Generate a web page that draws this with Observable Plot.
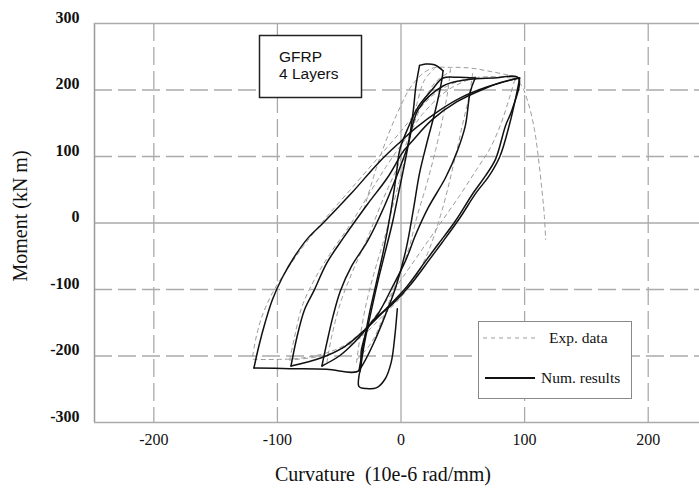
<!DOCTYPE html>
<html>
<head>
<meta charset="utf-8">
<script src="https://cdn.jsdelivr.net/npm/d3@7"></script>
<script src="https://cdn.jsdelivr.net/npm/@observablehq/plot@0.6"></script>
<style>
  html, body { margin: 0; padding: 0; background: #fff; }
  #chart { width: 699px; height: 489px; }
</style>
</head>
<body>
<div id="chart"></div>
<script>
// ---- axes ----
const xDomain = [-248, 241.5];
const yDomain = [-300, 300];
const xTicks = [-200, -100, 0, 100, 200];
const yTicks = [-300, -200, -100, 0, 100, 200, 300];
const xDashedGrid = [-200, -100, 100, 200];
const yDashedGrid = [-200, -100, 100, 200];
const xSolidGrid = [0];
const ySolidGrid = [0];

// ---- numerical results (curvature, moment) ----
const numTail = [[-3,-129],[-5,-170],[-8,-210],[-13,-235],[-20,-248],[-28,-249],[-34,-246],[-34,-230],[-33,-222]];
const numR4 = [[-33,-222],[-30,-185],[-25,-140],[-19,-90],[-13,-45],[-7,0],[-2,45],[3,90],[7,130],[10,170],[12,205],[15,237]];
const numCap = [[15,237],[20,239],[27,238],[34,229]];
const numUcap = [[34,229],[33,215],[28,171],[21,121],[15,75],[10,20],[4,-40],[-4,-95],[-13,-140],[-22,-180],[-30,-210],[-34,-222]];
const numR4b = [[-34,-222],[-31,-190],[-26,-140],[-20,-90],[-14,-40],[-8,20],[-4,70],[-1,110],[5,140],[14,175],[25,200],[34,218],[47,219],[60,218]];
const numU60 = [[60,218],[56,197],[52,146],[45.5,108],[36,68],[22,23],[12,-17],[3.6,-57],[-8,-100],[-18,-135],[-26,-155],[-38,-180],[-50,-200],[-64,-215]];
const numR3 = [[-64,-215],[-60,-180],[-55,-140],[-49,-102],[-40,-65],[-27,-27],[-14,23],[-3,73],[5,113],[14,171],[34,206],[48,214],[60,217]];
const numU95a = [[60,217],[75,218],[95,218],[90,171],[84.5,146],[76.5,96],[68,70],[58,44],[44,3],[30,-32],[20,-57],[5,-95],[-10,-125],[-26,-155],[-45,-185],[-65,-203],[-89,-215]];
const numR2 = [[-89,-215],[-84,-170],[-78,-130],[-70.5,-102],[-60,-60],[-46.5,-22],[-27,28.6],[-11,68],[2,108],[9,123],[25,155],[45,182],[65,200],[80,211],[96,218]];
const numU95b = [[96,218],[93,190],[88,150],[80,100],[71,70],[61,46],[47,6],[33,-30],[23,-55],[8,-92],[-7,-122],[-25,-152],[-32,-190],[-34,-222],[-60,-220],[-90,-219],[-119,-218]];
const numR1 = [[-119,-218],[-115,-185],[-110,-150],[-104,-115],[-96,-82],[-86,-50],[-75,-22],[-63,0],[-40,45],[-17,93],[0,123],[12,143],[30,168],[50,190],[70,205],[85,213],[95,218]];

// ---- experimental data (curvature, moment) ----
const expR120 = [[-120,-200],[-117,-170],[-112,-138],[-104,-105],[-93,-72],[-79,-35],[-62,5],[-42,48],[-20,95],[0,138],[15,172],[30,198],[50,215],[70,220],[90,218]];
const expRight = [[90,218],[97,208],[103,180],[108,140],[111,100],[114,50],[116,10],[117,-25]];
const expRcap = [[-30,21],[-17,99],[-3,165],[10,210],[24,232],[40,234],[56,233],[72,228],[88,222]];
const expU60 = [[58,225],[55,190],[50,150],[45,108],[33,18],[20,-52],[5,-100],[-15,-140],[-35,-175],[-60,-198],[-90,-206]];
const expR90 = [[-90,-206],[-86,-170],[-80,-125],[-70,-85],[-57,-45],[-42,-5],[-27,40],[-12,85],[3,125],[18,165],[38,200],[60,220]];
const expR60 = [[-60,-210],[-56,-170],[-49,-120],[-39,-72],[-27,-22],[-14,38],[-2,88],[8,138],[18,182],[28,212],[40,228]];
const expU95 = [[92,215],[88,190],[81,150],[72,112],[61,80],[47,40],[32,0],[17,-40],[2,-80],[-13,-120],[-30,-160],[-50,-188],[-80,-203],[-120,-205]];
const expR35 = [[-36,-210],[-33,-170],[-28,-120],[-21,-70],[-13,-20],[-6,30],[1,80],[7,130],[13,180],[19,215],[27,232]];
const expUcap = [[40,232],[38,200],[34,160],[28,110],[21,60],[13,10],[6,-40],[-4,-90],[-14,-140],[-24,-180],[-36,-206]];

const numBranches = [numTail, numR4, numCap, numUcap, numR4b, numU60, numR3, numU95a, numR2, numU95b, numR1];
const expBranches = [expR120, expRight, expRcap, expU60, expR90, expR60, expU95, expR35, expUcap];

const toRows = (branches, name) => branches.flatMap((b, i) =>
  b.map(([c, m]) => ({curvature: c, moment: m, branch: name + i})));
const numRows = toRows(numBranches, "n");
const expRows = toRows(expBranches, "e");

const gridColor = "#aaaaaa";
const serif = "Liberation Serif";
const sans = "Liberation Sans";

const plot = Plot.plot({
  width: 699,
  height: 489,
  marginLeft: 94,
  marginRight: 0,
  marginTop: 23,
  marginBottom: 67,
  style: {background: "#fff", overflow: "visible"},
  x: {domain: xDomain, label: null, axis: null},
  y: {domain: yDomain, label: null, axis: null},
  marks: [
    Plot.ruleX(xDashedGrid, {stroke: gridColor, strokeWidth: 1.3, strokeDasharray: "18,6"}),
    Plot.ruleY(yDashedGrid, {stroke: gridColor, strokeWidth: 1.6, strokeDasharray: "18,6"}),
    Plot.ruleX(xSolidGrid, {stroke: gridColor, strokeWidth: 1.3}),
    Plot.ruleY(ySolidGrid, {stroke: gridColor, strokeWidth: 1.6}),
    Plot.ruleX([xDomain[0]], {stroke: "#999", strokeWidth: 1.5}),
    Plot.ruleY([yDomain[1], yDomain[0]], {stroke: "#aaa", strokeWidth: 1.6}),
    Plot.line(expRows, {x: "curvature", y: "moment", z: "branch", curve: "catmull-rom",
      stroke: "#9a9a9a", strokeWidth: 1, strokeDasharray: "4,4"}),
    Plot.line(numRows, {x: "curvature", y: "moment", z: "branch", curve: "catmull-rom",
      stroke: "#111", strokeWidth: 1.5}),
    // tick labels
    Plot.text(xTicks, {x: d => d, y: yDomain[0], text: d => String(d), dy: 17,
      fontFamily: serif, fontSize: 16, fill: "#111", textAnchor: "middle"}),
    Plot.text(yTicks, {x: xDomain[0], y: d => d, text: d => String(d), dx: -15, dy: -6,
      fontFamily: serif, fontSize: 16, fontWeight: "bold", fill: "#111", textAnchor: "end"})
  ]
});

const svg = d3.select(plot);

const addText = (g, x, y, txt, fam, size) => g.append("text")
  .attr("x", x).attr("y", y).attr("text-anchor", "start")
  .attr("font-family", fam).attr("font-size", size).attr("fill", "#111")
  .text(txt);

// axis titles
svg.append("text")
  .attr("x", 383).attr("y", 481)
  .attr("text-anchor", "middle")
  .attr("font-family", serif).attr("font-size", 20).attr("fill", "#111")
  .text("Curvature\u00a0 (10e-6 rad/mm)");
svg.append("text")
  .attr("transform", "translate(27,216) rotate(-90)")
  .attr("text-anchor", "middle")
  .attr("font-family", serif).attr("font-size", 20).attr("fill", "#111")
  .text("Moment (kN m)");

// specimen label box
const tb = svg.append("g");
tb.append("rect").attr("x", 259.5).attr("y", 35.5).attr("width", 102).attr("height", 62)
  .attr("fill", "#fff").attr("stroke", "#222").attr("stroke-width", 1.5);
addText(tb, 279, 62, "GFRP", sans, 15.5);
addText(tb, 279, 79, "4 Layers", sans, 15.5);

// legend
const lg = svg.append("g");
lg.append("rect").attr("x", 478.5).attr("y", 321.5).attr("width", 153).attr("height", 77)
  .attr("fill", "#fff").attr("stroke", "#888").attr("stroke-width", 1);
lg.append("line").attr("x1", 483).attr("x2", 537).attr("y1", 338).attr("y2", 338)
  .attr("stroke", "#9a9a9a").attr("stroke-width", 1).attr("stroke-dasharray", "4,4");
addText(lg, 549, 343, "Exp. data", serif, 15.5);
lg.append("line").attr("x1", 485).attr("x2", 535).attr("y1", 378).attr("y2", 378)
  .attr("stroke", "#111").attr("stroke-width", 2);
addText(lg, 541, 383, "Num. results", serif, 15.5);

document.getElementById("chart").appendChild(plot);
</script>
</body>
</html>
